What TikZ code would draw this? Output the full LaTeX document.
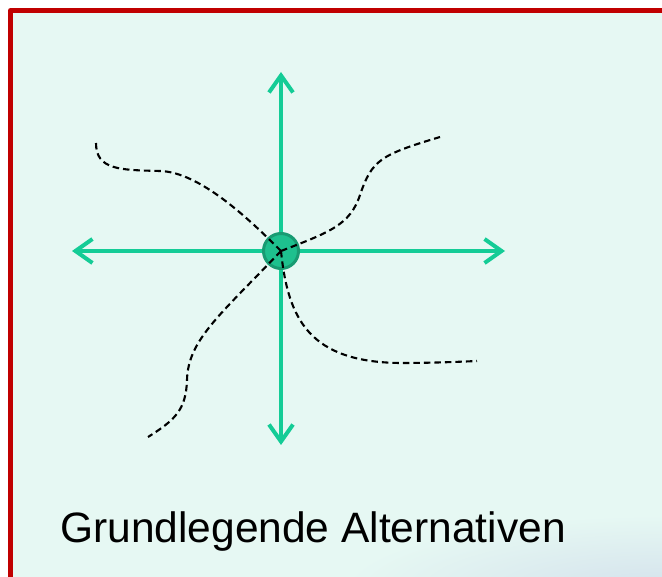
\documentclass[tikz,border=0pt]{standalone}
\usepackage{fontspec}
\setmainfont{Liberation Sans}
\usetikzlibrary{arrows.meta}
\definecolor{framered}{RGB}{192,0,0}
\definecolor{bgmint}{RGB}{230,248,243}
\definecolor{bgblue}{RGB}{212,226,236}
\definecolor{axisgreen}{RGB}{20,204,150}
\definecolor{dotfill}{RGB}{30,192,142}
\definecolor{dotring}{RGB}{24,155,114}
\tikzset{
  axisarrow/.style={draw=axisgreen, line width=4pt, -{Straight Barb[length=17pt,width=24pt]}},
  pathline/.style={draw=black, line width=2.1pt, dash pattern=on 6.5pt off 4pt},
  hub/.style={circle, fill=dotfill, draw=dotring, line width=3pt, minimum size=35pt, inner sep=0pt},
  caption/.style={anchor=base west, inner sep=0pt, font=\fontsize{42.5}{50}\selectfont, text=black}
}
\begin{document}
\begin{tikzpicture}[x=1pt,y=-1pt]
\useasboundingbox (0,0) rectangle (662,577);
\fill[white] (0,0) rectangle (662,577);
\fill[bgmint] (10.5,10.5) rectangle (662,577);
\begin{scope}
\clip (10.5,10.5) rectangle (662,577);
\shade[inner color=bgblue, outer color=bgmint] (662,590) ellipse [x radius=320, y radius=75];
\end{scope}
\draw[framered, line width=5pt, line join=round] (10.5,577) -- (10.5,10.5) -- (662,10.5);
% axes
\coordinate (L) at (72,251);
\coordinate (R) at (505,251);
\coordinate (T) at (281,72);
\coordinate (B) at (281,445);
\coordinate (C) at (281,251);
\draw[axisarrow] (C) -- (L);
\draw[axisarrow] (C) -- (R);
\draw[axisarrow] (C) -- (T);
\draw[axisarrow] (C) -- (B);
\node[hub] (hub) at (C) {};
% dashed paths
\coordinate (p1) at (96,143);
\coordinate (p2) at (440,137);
\coordinate (p3) at (477,361);
\coordinate (p4) at (148,437);
\draw[pathline] (p1) .. controls (96,170) and (120,170) .. (160,171) .. controls (200,172) and (250,220) .. (hub.center);
\draw[pathline] (hub.center) .. controls (330,232) and (350,225) .. (360,195) .. controls (372,160) and (380,155) .. (p2);
\draw[pathline] (hub.center) .. controls (288,320) and (310,362) .. (400,363) .. controls (430,363) and (455,362) .. (p3);
\draw[pathline] (hub.center) .. controls (220,315) and (188,340) .. (187,380) .. controls (186,410) and (175,420) .. (p4);
\node[caption] (title) at (60,543) {Grundlegende Alternativen};
\end{tikzpicture}
\end{document}
